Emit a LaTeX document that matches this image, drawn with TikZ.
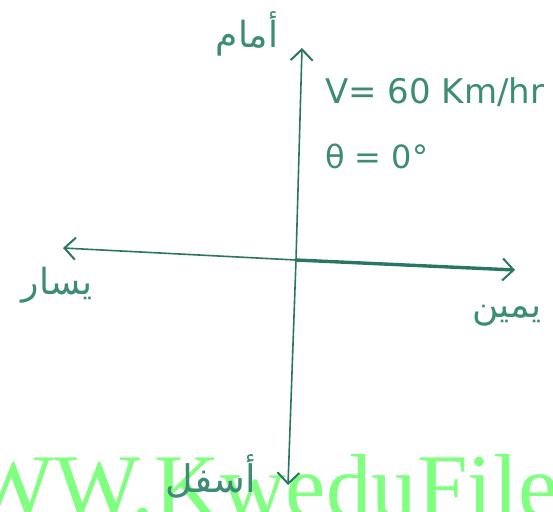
\documentclass[tikz,border=0pt]{standalone}
\usepackage{fontspec}
\newfontfamily\arabicfont[Script=Arabic]{DejaVu Sans}
\newfontfamily\wmfont{Liberation Serif}
\newfontfamily\handfont{DejaVu Sans}
\TeXXeTstate=1
\usetikzlibrary{arrows.meta}
\definecolor{ink}{RGB}{42,118,98}
\definecolor{inklight}{RGB}{60,140,118}
\definecolor{wm}{RGB}{128,255,128}
\begin{document}
\begin{tikzpicture}[x=1pt,y=-1pt,
  axis/.style={draw=ink, line width=1.6pt, line cap=round,
    -{Straight Barb[length=11pt,width=22pt,line width=2pt]}},
  vec/.style={axis, line width=3.4pt},
  arlbl/.style={text=inklight, font=\arabicfont\fontsize{36}{40}\selectfont, inner sep=0pt},
  eqlbl/.style={text=inklight, inner sep=0pt, anchor=base west}]
\useasboundingbox (0,0) rectangle (553,511);
\fill[white] (0,0) rectangle (553,511);
\begin{scope}
  \clip (0,0) rectangle (553,511);
  \node[anchor=base west, text=wm, font=\wmfont\fontsize{91}{100}\selectfont, inner sep=0pt] (wmk) at (-118,517) {WWW.KweduFiles};
\end{scope}
\coordinate (O) at (296,260);
\coordinate (T) at (302,48);
\coordinate (B) at (288,485);
\coordinate (L) at (63,248);
\coordinate (R) at (515,270);
\draw[axis] (O) -- (T);
\draw[axis] (O) -- (B);
\draw[axis] (O) -- (L);
\draw[vec] (O) -- (R);
\node[arlbl] (front) at (247,34) {\beginR أمام\endR};
\node[arlbl] (left) at (57,285) {\beginR يسار\endR};
\node[arlbl] (right) at (507,316) {\beginR يمين\endR};
\node[arlbl, font=\arabicfont\fontsize{38}{42}\selectfont] (down) at (211,476) {\beginR أسفل\endR};
\node[eqlbl, font=\handfont\fontsize{34}{38}\selectfont] (vel) at (325,103) {V= 60 Km/hr};
\node[eqlbl, font=\handfont\fontsize{32}{36}\selectfont] (ang) at (325,168) {θ = 0°};
\end{tikzpicture}
\end{document}
